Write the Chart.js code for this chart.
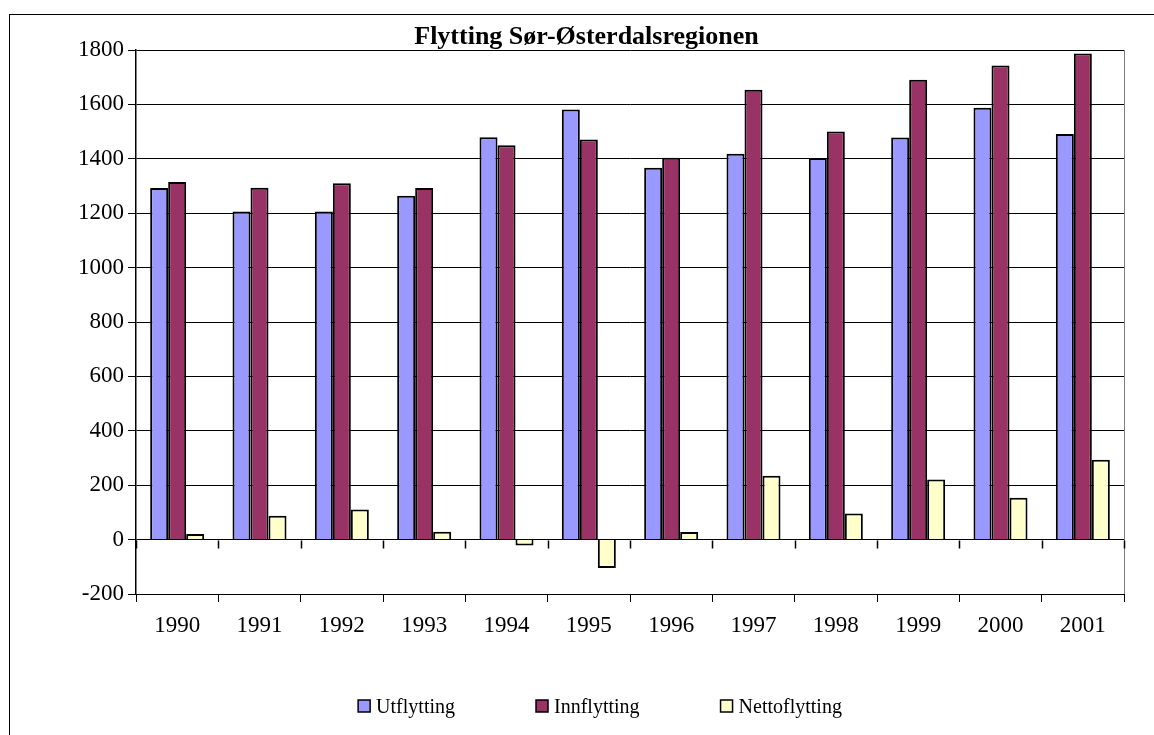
<!DOCTYPE html>
<html>
<head>
<meta charset="utf-8">
<title>Flytting Sør-Østerdalsregionen</title>
<script src="https://cdn.jsdelivr.net/npm/chart.js@4.4.0/dist/chart.umd.min.js"></script>
<style>
  html, body { margin: 0; padding: 0; background: #fff; }
  #wrap { position: relative; width: 1154px; height: 735px; overflow: hidden; }
  #frame { position: absolute; left: 9px; top: 14px; width: 1170px; height: 760px; border: 1px solid #000; }
  #chart { position: absolute; left: 0; top: 0; }
</style>
</head>
<body>
<div id="wrap">
  <div id="frame"></div>
  <canvas id="chart" width="1154" height="735"></canvas>
</div>
<script>
// verdier lest av figuren
const years = ['1990', '1991', '1992', '1993', '1994', '1995', '1996', '1997', '1998', '1999', '2000', '2001'];
const utflytting = [1293, 1206, 1206, 1264, 1479, 1581, 1367, 1419, 1403, 1478, 1588, 1491];
const innflytting = [1315, 1294, 1310, 1293, 1450, 1471, 1404, 1654, 1500, 1691, 1743, 1787];
const nettoflytting = [21, 88, 111, 29, -22, -104, 28, 235, 96, 221, 154, 294];
const yMin = -200;
const yMax = 1800;
const yStep = 200;

const serif = '"Liberation Serif", "Times New Roman", serif';

// legend under plottet, tegnet selv for å få avstanden som i Excel
const legendBelow = {
    id: 'legendBelow',
    afterDraw(chart) {
        const ctx = chart.ctx;
        const box = 12, gap = 6, spacing = 81;
        ctx.save();
        ctx.font = '20px ' + serif;
        const items = chart.data.datasets.map(ds => ({ds: ds, w: ctx.measureText(ds.label).width}));
        let total = spacing * (items.length - 1);
        items.forEach(it => { total += box + gap + it.w; });
        let x = 600 - total / 2;
        const base = 713;
        items.forEach(it => {
            ctx.fillStyle = it.ds.backgroundColor;
            ctx.fillRect(x, base - box - 1, box, box);
            ctx.lineWidth = 1.5;
            ctx.strokeStyle = '#000';
            ctx.strokeRect(x, base - box - 1, box, box);
            ctx.fillStyle = '#000';
            ctx.textBaseline = 'alphabetic';
            ctx.textAlign = 'left';
            ctx.fillText(it.ds.label, x + box + gap, base);
            x += box + gap + it.w + spacing;
        });
        ctx.restore();
    }
};

// grå ramme til høyre og kategoristreker på nullinjen
const plotExtras = {
    id: 'plotExtras',
    afterDatasetsDraw(chart) {
        const a = chart.chartArea;
        const ctx = chart.ctx;
        const xs = chart.scales.x;
        const y0 = Math.round(chart.scales.y.getPixelForValue(0)) + 0.5;
        const n = chart.data.labels.length;
        const step = (a.right - a.left) / n;
        ctx.save();
        ctx.strokeStyle = '#808080';
        ctx.lineWidth = 1;
        ctx.beginPath();
        ctx.moveTo(Math.round(a.right) + 0.5, a.top);
        ctx.lineTo(Math.round(a.right) + 0.5, a.bottom);
        ctx.stroke();
        ctx.strokeStyle = '#000000';
        ctx.lineWidth = 1.5;
        ctx.beginPath();
        for (let i = 0; i <= n; i++) {
            const px = Math.round(xs.left + i * step) + 0.5;
            ctx.moveTo(px, y0);
            ctx.lineTo(px, y0 + 8);
        }
        ctx.stroke();
        ctx.restore();
    }
};

const barStyle = {
    borderColor: '#000',
    borderWidth: 2,
    categoryPercentage: 0.656,
    barPercentage: 1.0
};

new Chart(document.getElementById('chart'), {
    type: 'bar',
    data: {
        labels: years,
        datasets: [
            Object.assign({label: 'Utflytting', data: utflytting, backgroundColor: '#9999FF'}, barStyle),
            Object.assign({label: 'Innflytting', data: innflytting, backgroundColor: '#993366'}, barStyle),
            Object.assign({label: 'Nettoflytting', data: nettoflytting, backgroundColor: '#FFFFCC'}, barStyle)
        ]
    },
    options: {
        responsive: false,
        animation: false,
        layout: {
            padding: {left: 49, right: 30, top: 0, bottom: 91}
        },
        plugins: {
            legend: {display: false},
            tooltip: {enabled: false},
            title: {
                display: true,
                text: 'Flytting Sør-Østerdalsregionen',
                color: '#000',
                font: {family: serif, size: 26, weight: 'bold', lineHeight: 1.0},
                padding: {top: 24, bottom: 0}
            }
        },
        scales: {
            x: {
                position: 'bottom',
                offset: true,
                grid: {
                    display: true,
                    drawOnChartArea: false,
                    offset: true,
                    color: '#000',
                    tickLength: 8
                },
                border: {display: true, color: '#000', width: 1},
                ticks: {
                    color: '#000',
                    font: {family: serif, size: 23},
                    padding: 10,
                    maxRotation: 0
                },
                afterFit: function(scale) { scale.height = 50; }
            },
            y: {
                min: yMin,
                max: yMax,
                ticks: {
                    stepSize: yStep,
                    color: '#000',
                    font: {family: serif, size: 23},
                    padding: 4,
                    callback: function(v) { return String(v); }
                },
                grid: {
                    color: '#000',
                    lineWidth: 1,
                    tickLength: 8
                },
                border: {display: true, color: '#000', width: 1.5},
                afterFit: function(scale) { scale.width = 87; }
            }
        }
    },
    plugins: [plotExtras, legendBelow]
});
</script>
</body>
</html>
